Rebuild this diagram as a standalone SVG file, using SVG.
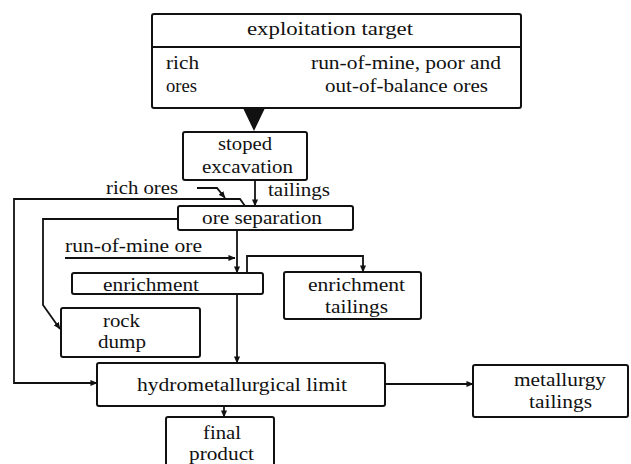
<svg xmlns="http://www.w3.org/2000/svg" width="631" height="464" viewBox="0 0 631 464">
<style>
.box{fill:#fff;stroke:#111;stroke-width:2;}
.ln{fill:none;stroke:#111;stroke-width:1.8;}
</style>
<defs>
<marker id="ah" viewBox="0 0 8 8" refX="7.5" refY="4" markerWidth="7" markerHeight="7" markerUnits="userSpaceOnUse" orient="auto">
<path d="M0,0.5 L8,4 L0,7.5 Z" fill="#111"/>
</marker>
</defs>
<rect width="631" height="464" fill="#fff"/>
<g id="connectors">
<polygon points="243,108 265,108 254,131" fill="#111"/>
<line class="ln" x1="255" y1="180" x2="255" y2="206" marker-end="url(#ah)"/>
<polyline class="ln" points="197,188 217,188 225,198" marker-end="url(#ah)"/>
<polyline class="ln" points="245,206 240,199 14,199 14,383 97,383" marker-end="url(#ah)"/>
<polyline class="ln" points="178,219 43,219 43,305 60,329" marker-end="url(#ah)"/>
<line class="ln" x1="237" y1="230" x2="237" y2="273" marker-end="url(#ah)"/>
<line class="ln" x1="65" y1="258" x2="235" y2="258" marker-end="url(#ah)"/>
<polyline class="ln" points="247,273 247,256 363,256 363,272" marker-end="url(#ah)"/>
<line class="ln" x1="237" y1="294" x2="237" y2="363" marker-end="url(#ah)"/>
<line class="ln" x1="385" y1="384" x2="473" y2="384" marker-end="url(#ah)"/>
<line class="ln" x1="224" y1="406" x2="224" y2="417" marker-end="url(#ah)"/>
</g>
<g font-family="Liberation Serif, Times New Roman, DejaVu Serif, serif" font-size="19" fill="#111">
<g id="labels">
<text x="106" y="194" textLength="72" lengthAdjust="spacingAndGlyphs">rich ores</text>
<text x="268" y="196" textLength="62" lengthAdjust="spacingAndGlyphs">tailings</text>
<text x="65" y="252" textLength="137" lengthAdjust="spacingAndGlyphs">run-of-mine ore</text>
</g>
<g id="exploitation-target">
<rect class="box" x="152" y="14" width="369" height="94" rx="2"/>
<line x1="152" y1="47" x2="521" y2="47" stroke="#111" stroke-width="2"/>
<text x="247" y="35" textLength="166" lengthAdjust="spacingAndGlyphs">exploitation target</text>
<text x="166" y="69" textLength="33" lengthAdjust="spacingAndGlyphs">rich</text>
<text x="166" y="92" textLength="31" lengthAdjust="spacingAndGlyphs">ores</text>
<text x="311" y="69" textLength="190" lengthAdjust="spacingAndGlyphs">run-of-mine, poor and</text>
<text x="325" y="92" textLength="163" lengthAdjust="spacingAndGlyphs">out-of-balance ores</text>
</g>
<g id="stoped-excavation">
<rect class="box" x="183" y="132" width="124" height="48" rx="2"/>
<text x="218" y="150" textLength="54" lengthAdjust="spacingAndGlyphs">stoped</text>
<text x="202" y="173" textLength="91" lengthAdjust="spacingAndGlyphs">excavation</text>
</g>
<g id="ore-separation">
<rect class="box" x="178" y="206" width="175" height="24" rx="2"/>
<text x="202" y="224" textLength="120" lengthAdjust="spacingAndGlyphs">ore separation</text>
</g>
<g id="enrichment">
<rect class="box" x="72" y="273" width="191" height="21" rx="2"/>
<text x="103" y="291" textLength="96" lengthAdjust="spacingAndGlyphs">enrichment</text>
</g>
<g id="enrichment-tailings">
<rect class="box" x="284" y="272" width="137" height="47" rx="2"/>
<text x="308" y="291" textLength="97" lengthAdjust="spacingAndGlyphs">enrichment</text>
<text x="325" y="313" textLength="63" lengthAdjust="spacingAndGlyphs">tailings</text>
</g>
<g id="rock-dump">
<rect class="box" x="61" y="308" width="139" height="49" rx="2"/>
<text x="103" y="327" textLength="37" lengthAdjust="spacingAndGlyphs">rock</text>
<text x="98" y="348" textLength="48" lengthAdjust="spacingAndGlyphs">dump</text>
</g>
<g id="hydrometallurgical-limit">
<rect class="box" x="97" y="363" width="288" height="43" rx="2"/>
<text x="137" y="391" textLength="210" lengthAdjust="spacingAndGlyphs">hydrometallurgical limit</text>
</g>
<g id="metallurgy-tailings">
<rect class="box" x="473" y="365" width="155" height="52" rx="2"/>
<text x="514" y="386" textLength="92" lengthAdjust="spacingAndGlyphs">metallurgy</text>
<text x="529" y="408" textLength="63" lengthAdjust="spacingAndGlyphs">tailings</text>
</g>
<g id="final-product">
<rect class="box" x="166" y="417" width="108" height="55" rx="2"/>
<text x="203" y="439" textLength="38" lengthAdjust="spacingAndGlyphs">final</text>
<text x="189" y="460" textLength="65" lengthAdjust="spacingAndGlyphs">product</text>
</g>
</g>
</svg>
